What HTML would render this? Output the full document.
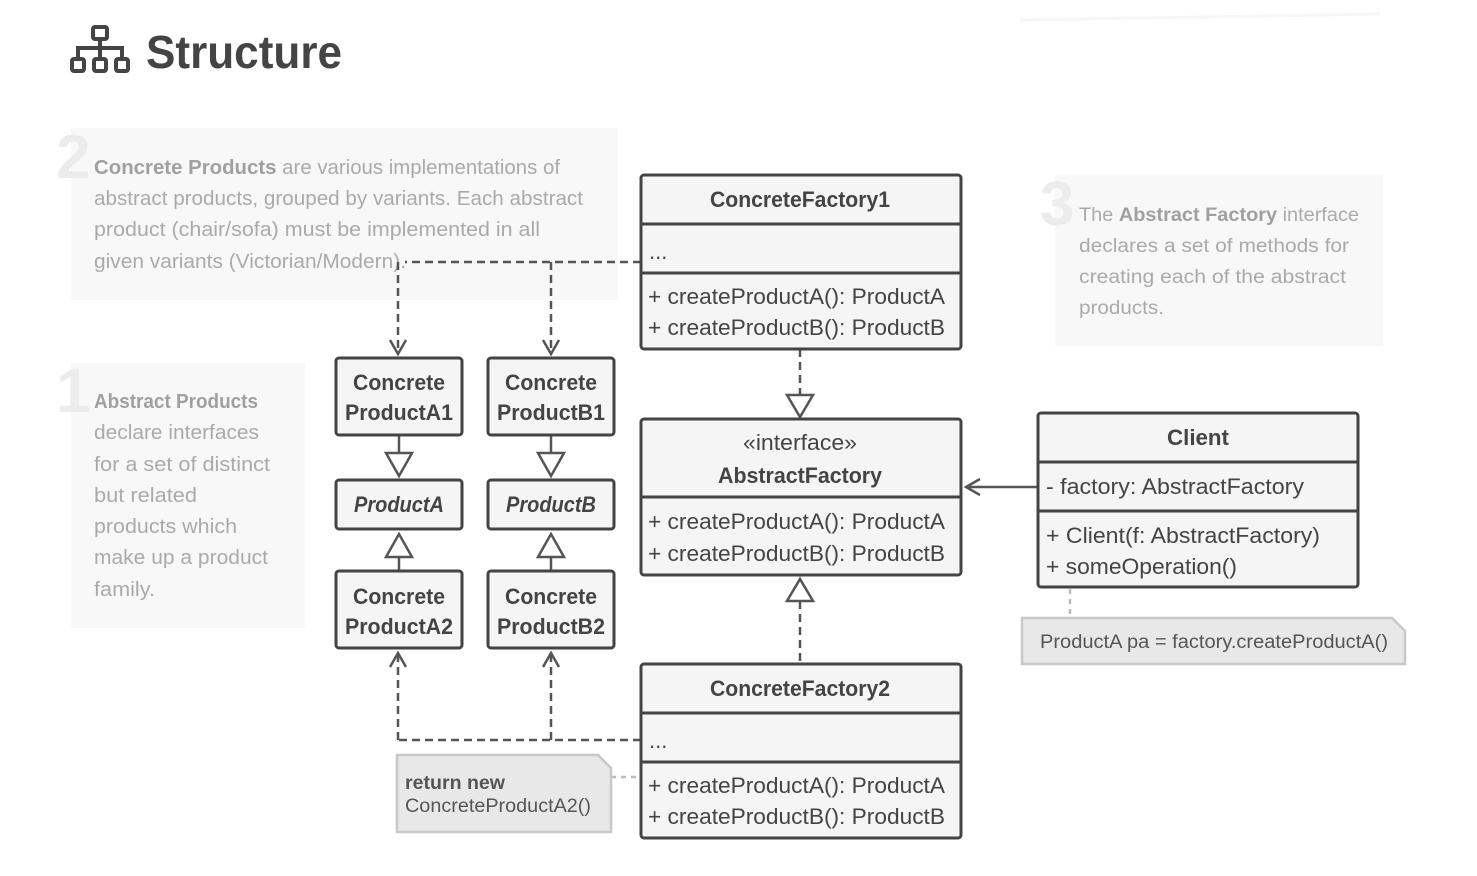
<!DOCTYPE html>
<html><head><meta charset="utf-8"><style>
html,body{margin:0;padding:0;background:#fff;}
svg{display:block;}
text{font-family:"Liberation Sans",sans-serif;}
</style></head><body>
<svg width="1477" height="876" viewBox="0 0 1477 876" xmlns="http://www.w3.org/2000/svg">
<defs>
<marker id="open" markerWidth="24" markerHeight="24" refX="16" refY="10" orient="auto" markerUnits="userSpaceOnUse">
<path d="M2,2 L16,10 L2,18" fill="none" stroke="#555" stroke-width="2.5"/>
</marker>
</defs>
<line x1="1020" y1="20" x2="1380" y2="14" stroke="#f6f6f6" stroke-width="3"/>
<g fill="none" stroke="#444" stroke-width="4">
<rect x="93" y="27" width="14" height="12" rx="2"/>
<line x1="100" y1="39" x2="100" y2="48"/>
<polyline points="78,58 78,48 122,48 122,58"/>
<line x1="100" y1="48" x2="100" y2="58"/>
<rect x="72" y="59" width="12" height="12" rx="2"/>
<rect x="94" y="59" width="12" height="12" rx="2"/>
<rect x="116" y="59" width="12" height="12" rx="2"/>
</g>
<text x="146" y="68" font-size="46" font-weight="bold" fill="#444" textLength="196" lengthAdjust="spacingAndGlyphs">Structure</text>

<rect x="71" y="128" width="547" height="172" fill="#f8f8f8"/>
<text x="56" y="178" font-size="62" fill="#ececec" font-weight="bold">2</text>
<g font-size="20" fill="#aaa">
<text x="94" y="174" textLength="466" lengthAdjust="spacingAndGlyphs"><tspan font-weight="bold" fill="#a0a0a0">Concrete Products</tspan> are various implementations of</text>
<text x="94" y="205" textLength="489" lengthAdjust="spacingAndGlyphs">abstract products, grouped by variants. Each abstract</text>
<text x="94" y="236" textLength="446" lengthAdjust="spacingAndGlyphs">product (chair/sofa) must be implemented in all</text>
<text x="94" y="268" textLength="312" lengthAdjust="spacingAndGlyphs">given variants (Victorian/Modern).</text>
</g>
<rect x="71" y="363" width="234" height="265" fill="#f8f8f8"/>
<text x="56" y="412" font-size="62" fill="#ececec" font-weight="bold">1</text>
<g font-size="20" fill="#aaa">
<text x="94" y="408" font-weight="bold" fill="#a0a0a0" textLength="164" lengthAdjust="spacingAndGlyphs">Abstract Products</text>
<text x="94" y="439" textLength="165" lengthAdjust="spacingAndGlyphs">declare interfaces</text>
<text x="94" y="471" textLength="176" lengthAdjust="spacingAndGlyphs">for a set of distinct</text>
<text x="94" y="502" textLength="103" lengthAdjust="spacingAndGlyphs">but related</text>
<text x="94" y="533" textLength="143" lengthAdjust="spacingAndGlyphs">products which</text>
<text x="94" y="564" textLength="174" lengthAdjust="spacingAndGlyphs">make up a product</text>
<text x="94" y="596" textLength="61" lengthAdjust="spacingAndGlyphs">family.</text>
</g>
<rect x="1055" y="175" width="328" height="171" fill="#f8f8f8"/>
<text x="1040" y="225" font-size="62" fill="#ececec" font-weight="bold">3</text>
<g font-size="19" fill="#aaa">
<text x="1079" y="221" textLength="280" lengthAdjust="spacingAndGlyphs">The <tspan font-weight="bold" fill="#a0a0a0">Abstract Factory</tspan> interface</text>
<text x="1079" y="252" textLength="270" lengthAdjust="spacingAndGlyphs">declares a set of methods for</text>
<text x="1079" y="283" textLength="267" lengthAdjust="spacingAndGlyphs">creating each of the abstract</text>
<text x="1079" y="314" textLength="85" lengthAdjust="spacingAndGlyphs">products.</text>
</g>

<g fill="none" stroke="#555" stroke-width="2.5" stroke-dasharray="8,5">
<line x1="641" y1="262" x2="405" y2="262"/>
<line x1="398" y1="262" x2="398" y2="354" marker-end="url(#open)"/>
<line x1="551" y1="262" x2="551" y2="354" marker-end="url(#open)"/>
<line x1="800" y1="349" x2="800" y2="395"/>
<line x1="800" y1="601" x2="800" y2="664"/>
<polyline points="641,740 398,740"/>
<line x1="398" y1="740" x2="398" y2="653" marker-end="url(#open)"/>
<line x1="551" y1="740" x2="551" y2="653" marker-end="url(#open)"/>
</g>
<g fill="none" stroke="#bbb" stroke-width="2.5" stroke-dasharray="5,5">
<line x1="611" y1="777" x2="641" y2="777"/>
<line x1="1070" y1="589" x2="1070" y2="617"/>
</g>
<line x1="1038" y1="487" x2="966" y2="487" stroke="#555" stroke-width="2.5" marker-end="url(#open)"/>
<g fill="#fff" stroke="#555" stroke-width="2.5">
<path d="M787,395 L813,395 L800,417 Z"/>
<path d="M787,601 L813,601 L800,579 Z"/>
<line x1="399" y1="435" x2="399" y2="453"/><path d="M386,453 L412,453 L399,476 Z"/>
<line x1="551" y1="435" x2="551" y2="453"/><path d="M538,453 L564,453 L551,476 Z"/>
<line x1="399" y1="571" x2="399" y2="557"/><path d="M386,557 L412,557 L399,534 Z"/>
<line x1="551" y1="571" x2="551" y2="557"/><path d="M538,557 L564,557 L551,534 Z"/>
</g>

<g fill="#f5f5f5" stroke="#444" stroke-width="3">
<rect x="641" y="175" width="320" height="174" rx="3"/>
<line x1="641" y1="224" x2="961" y2="224"/><line x1="641" y1="273" x2="961" y2="273"/>
<rect x="641" y="419" width="320" height="156" rx="3"/>
<line x1="641" y1="497" x2="961" y2="497"/>
<rect x="641" y="664" width="320" height="174" rx="3"/>
<line x1="641" y1="713" x2="961" y2="713"/><line x1="641" y1="762" x2="961" y2="762"/>
<rect x="1038" y="413" width="320" height="174" rx="3"/>
<line x1="1038" y1="462" x2="1358" y2="462"/><line x1="1038" y1="511" x2="1358" y2="511"/>
<rect x="336" y="358" width="126" height="77" rx="3"/>
<rect x="488" y="358" width="126" height="77" rx="3"/>
<rect x="336" y="480" width="126" height="49" rx="3"/>
<rect x="488" y="480" width="126" height="49" rx="3"/>
<rect x="336" y="571" width="126" height="77" rx="3"/>
<rect x="488" y="571" width="126" height="77" rx="3"/>
</g>
<g fill="#e8e8e8" stroke="#c8c8c8" stroke-width="2.5">
<path d="M1022,618 L1392,618 L1405,631 L1405,664 L1022,664 Z"/>
<path d="M397,755 L598,755 L611,768 L611,832 L397,832 Z"/>
</g>

<g fill="#444" font-size="22">
<text x="800" y="207" text-anchor="middle" font-weight="bold" textLength="180" lengthAdjust="spacingAndGlyphs">ConcreteFactory1</text>
<text x="649" y="259">...</text>
<text x="648" y="304" textLength="297" lengthAdjust="spacingAndGlyphs">+ createProductA(): ProductA</text>
<text x="648" y="335" textLength="297" lengthAdjust="spacingAndGlyphs">+ createProductB(): ProductB</text>
<text x="800" y="450" text-anchor="middle" textLength="114" lengthAdjust="spacingAndGlyphs">«interface»</text>
<text x="800" y="483" text-anchor="middle" font-weight="bold" textLength="164" lengthAdjust="spacingAndGlyphs">AbstractFactory</text>
<text x="648" y="529" textLength="297" lengthAdjust="spacingAndGlyphs">+ createProductA(): ProductA</text>
<text x="648" y="561" textLength="297" lengthAdjust="spacingAndGlyphs">+ createProductB(): ProductB</text>
<text x="800" y="696" text-anchor="middle" font-weight="bold" textLength="180" lengthAdjust="spacingAndGlyphs">ConcreteFactory2</text>
<text x="649" y="748">...</text>
<text x="648" y="793" textLength="297" lengthAdjust="spacingAndGlyphs">+ createProductA(): ProductA</text>
<text x="648" y="824" textLength="297" lengthAdjust="spacingAndGlyphs">+ createProductB(): ProductB</text>
<text x="1198" y="445" text-anchor="middle" font-weight="bold" textLength="62" lengthAdjust="spacingAndGlyphs">Client</text>
<text x="1046" y="494" textLength="258" lengthAdjust="spacingAndGlyphs">- factory: AbstractFactory</text>
<text x="1046" y="543" textLength="274" lengthAdjust="spacingAndGlyphs">+ Client(f: AbstractFactory)</text>
<text x="1046" y="574" textLength="191" lengthAdjust="spacingAndGlyphs">+ someOperation()</text>
<g font-weight="bold" text-anchor="middle">
<text x="399" y="390" textLength="92" lengthAdjust="spacingAndGlyphs">Concrete</text>
<text x="399" y="420" textLength="108" lengthAdjust="spacingAndGlyphs">ProductA1</text>
<text x="551" y="390" textLength="92" lengthAdjust="spacingAndGlyphs">Concrete</text>
<text x="551" y="420" textLength="108" lengthAdjust="spacingAndGlyphs">ProductB1</text>
<text x="399" y="512" font-style="italic" textLength="90" lengthAdjust="spacingAndGlyphs">ProductA</text>
<text x="551" y="512" font-style="italic" textLength="90" lengthAdjust="spacingAndGlyphs">ProductB</text>
<text x="399" y="604" textLength="92" lengthAdjust="spacingAndGlyphs">Concrete</text>
<text x="399" y="634" textLength="108" lengthAdjust="spacingAndGlyphs">ProductA2</text>
<text x="551" y="604" textLength="92" lengthAdjust="spacingAndGlyphs">Concrete</text>
<text x="551" y="634" textLength="108" lengthAdjust="spacingAndGlyphs">ProductB2</text>
</g>
</g>
<g fill="#555" font-size="19">
<text x="1040" y="648" textLength="348" lengthAdjust="spacingAndGlyphs">ProductA pa = factory.createProductA()</text>
<text x="405" y="789" font-weight="bold" textLength="100" lengthAdjust="spacingAndGlyphs">return new</text>
<text x="405" y="812" textLength="186" lengthAdjust="spacingAndGlyphs">ConcreteProductA2()</text>
</g>
</svg>
</body></html>
